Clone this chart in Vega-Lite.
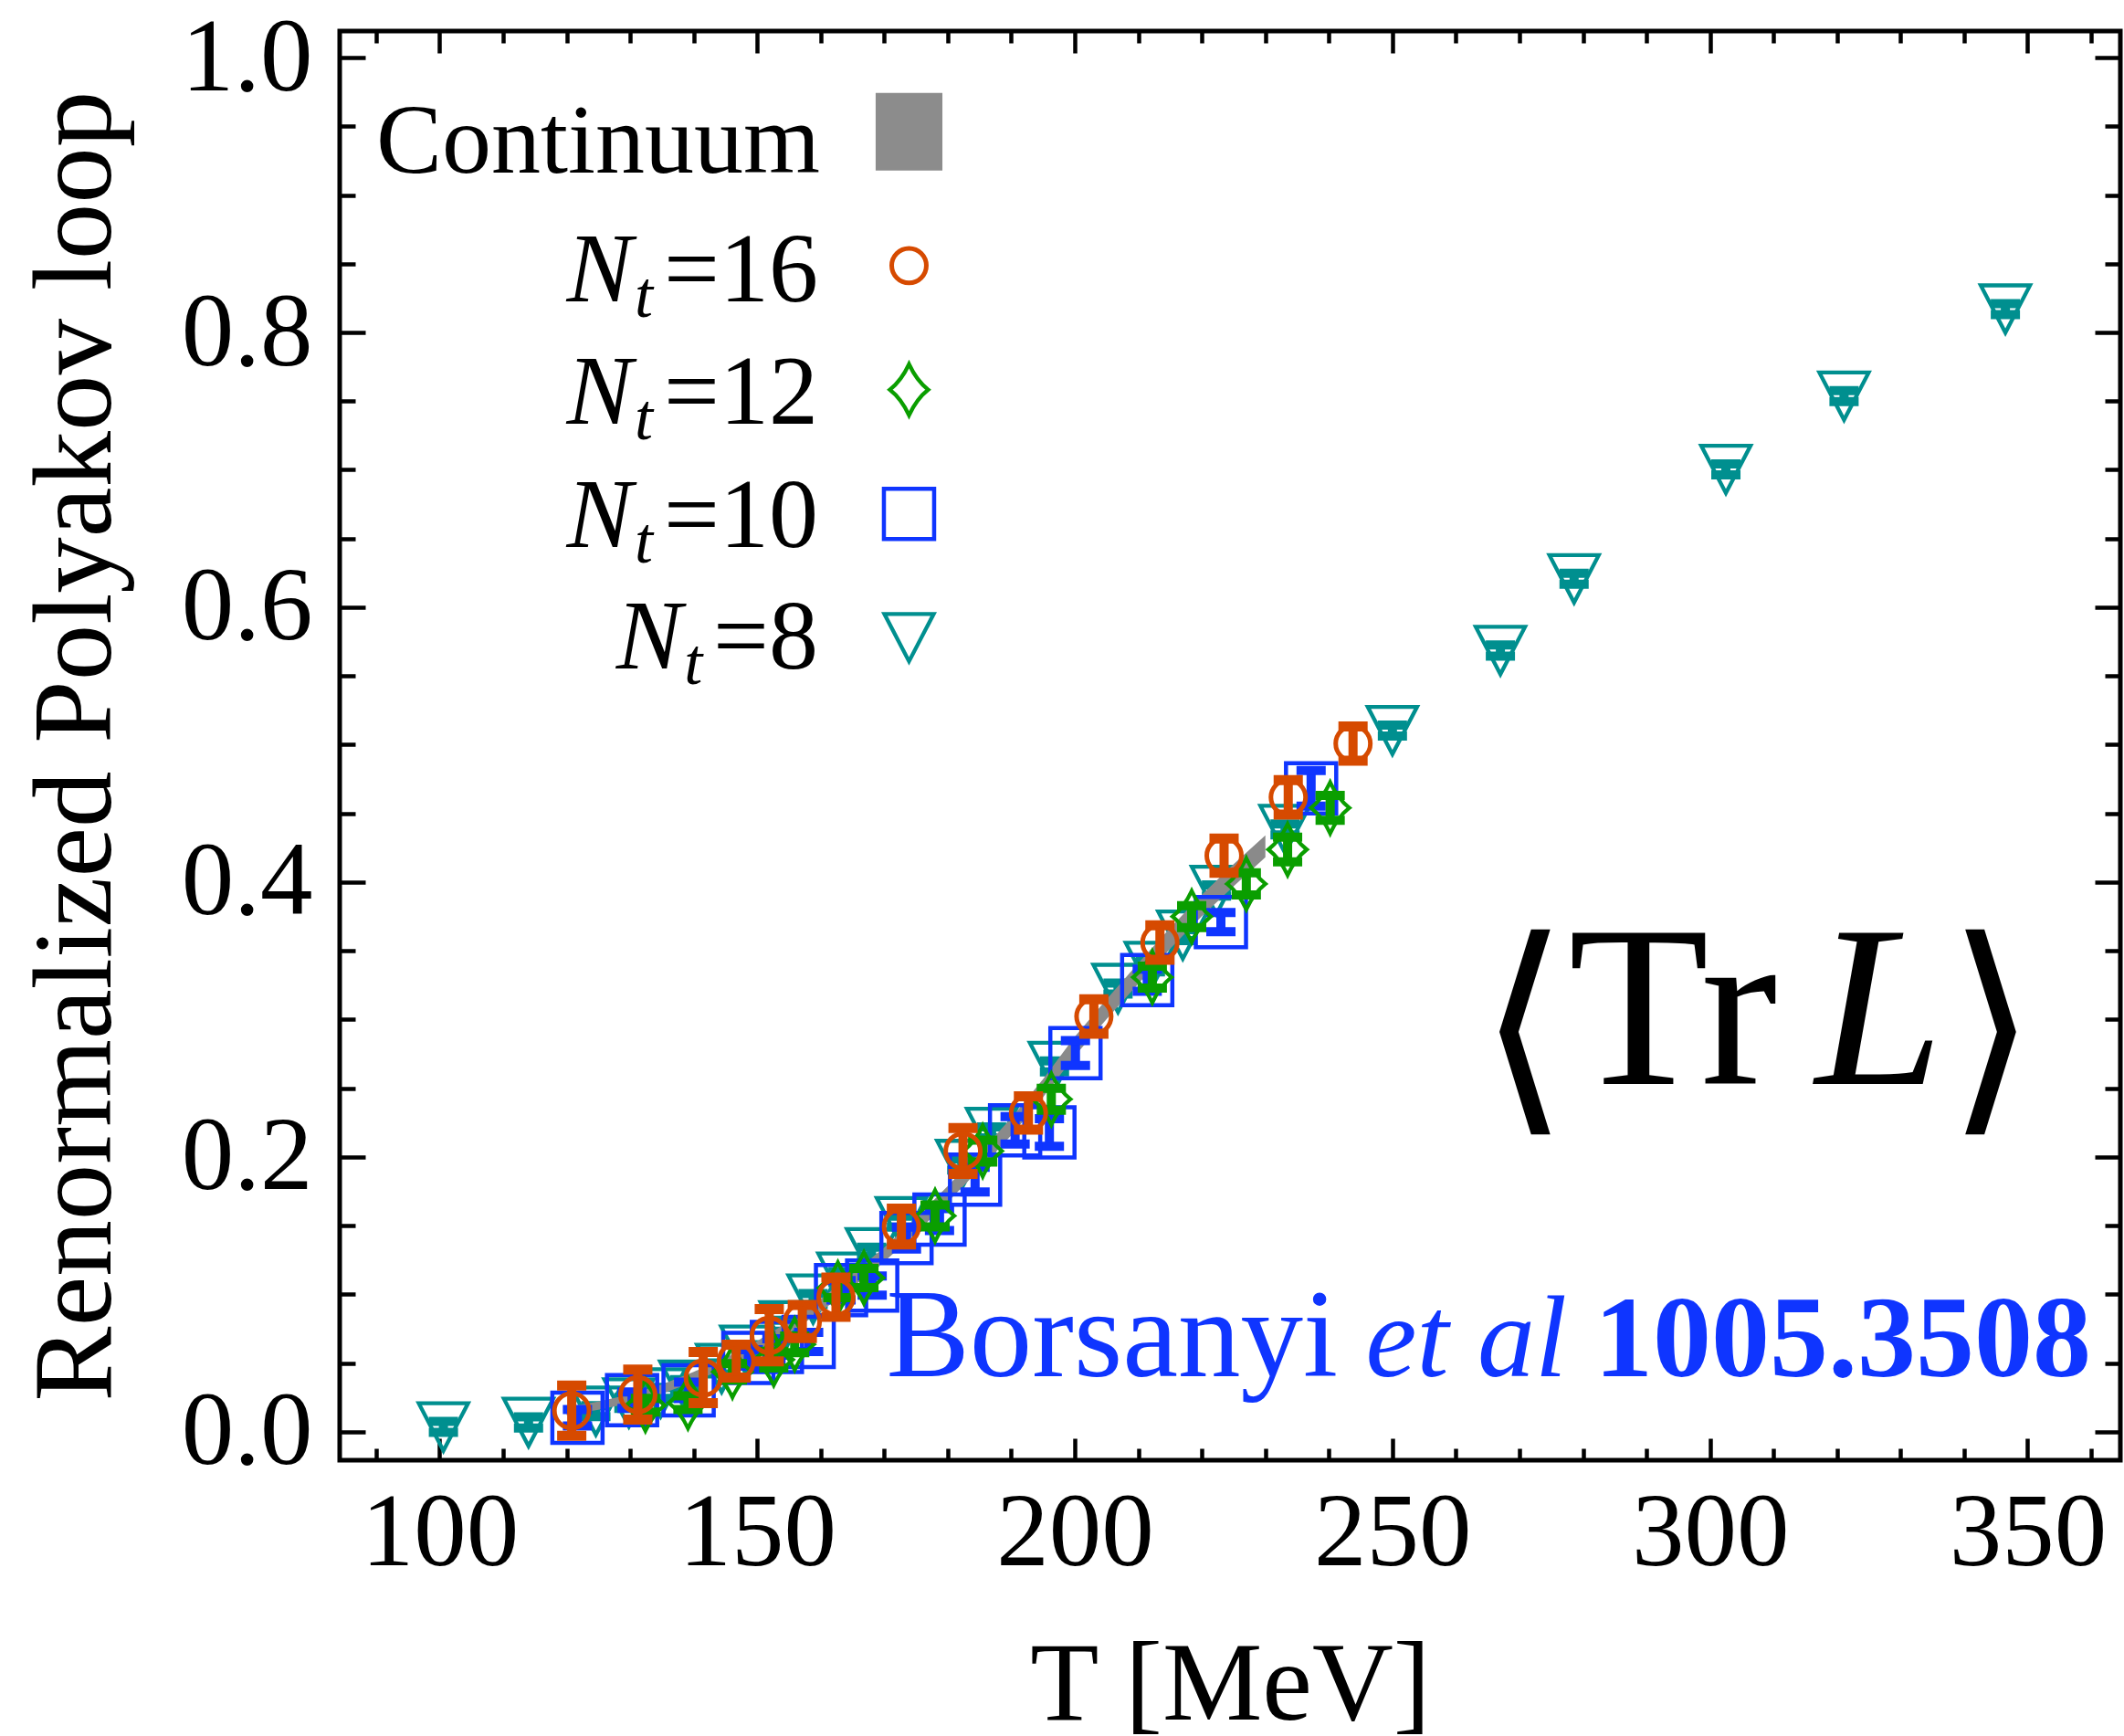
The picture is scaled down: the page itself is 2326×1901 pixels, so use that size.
{
 "$schema": "https://vega.github.io/schema/vega-lite/v6.json",
 "width": 1950, "height": 1565,
 "autosize": {"type": "none"},
 "padding": {"left": 372, "top": 34, "right": 4, "bottom": 302},
 "background": "#ffffff",
 "config": {
  "font": "Liberation Serif",
  "view": {"stroke": "#000000", "strokeWidth": 5},
  "axis": {"domain": false, "grid": false, "labelFont": "Liberation Serif", "labelFontSize": 115, "labelColor": "#000000", "tickColor": "#000000", "tickWidth": 4.5, "titleFont": "Liberation Serif", "titleFontSize": 123, "titleFontWeight": "normal", "titleColor": "#000000", "labelOverlap": false, "labelFlush": false}
 },
 "datasets": {
  "pts": [
   {"s":"8","T":100.6,"L":0.0035,"lo":-0.0005,"hi":0.0075},
   {"s":"8","T":114.0,"L":0.0068,"lo":0.0028,"hi":0.0108},
   {"s":"8","T":124.6,"L":0.015,"lo":0.011,"hi":0.019},
   {"s":"8","T":129.8,"L":0.021,"lo":0.017,"hi":0.025},
   {"s":"8","T":134.8,"L":0.0283,"lo":0.0243,"hi":0.0323},
   {"s":"8","T":138.6,"L":0.0339,"lo":0.0299,"hi":0.0379},
   {"s":"8","T":144.4,"L":0.0461,"lo":0.0421,"hi":0.0501},
   {"s":"8","T":148.2,"L":0.0594,"lo":0.0554,"hi":0.0634},
   {"s":"8","T":154.4,"L":0.0771,"lo":0.0731,"hi":0.0811},
   {"s":"8","T":158.8,"L":0.0966,"lo":0.0926,"hi":0.1006},
   {"s":"8","T":163.5,"L":0.1125,"lo":0.1085,"hi":0.1165},
   {"s":"8","T":168.0,"L":0.1303,"lo":0.1263,"hi":0.1343},
   {"s":"8","T":172.7,"L":0.1529,"lo":0.1489,"hi":0.1569},
   {"s":"8","T":182.2,"L":0.1945,"lo":0.1905,"hi":0.1985},
   {"s":"8","T":186.9,"L":0.2178,"lo":0.2138,"hi":0.2218},
   {"s":"8","T":196.8,"L":0.2659,"lo":0.2619,"hi":0.2699},
   {"s":"8","T":206.8,"L":0.3226,"lo":0.3186,"hi":0.3266},
   {"s":"8","T":211.9,"L":0.3386,"lo":0.3346,"hi":0.3426},
   {"s":"8","T":217.0,"L":0.3614,"lo":0.3574,"hi":0.3654},
   {"s":"8","T":222.3,"L":0.3939,"lo":0.3899,"hi":0.3979},
   {"s":"8","T":233.1,"L":0.4383,"lo":0.4343,"hi":0.4423},
   {"s":"8","T":250.0,"L":0.5103,"lo":0.5063,"hi":0.5143},
   {"s":"8","T":267.0,"L":0.5685,"lo":0.5645,"hi":0.5725},
   {"s":"8","T":278.6,"L":0.6207,"lo":0.6167,"hi":0.6247},
   {"s":"8","T":302.5,"L":0.7003,"lo":0.6963,"hi":0.7043},
   {"s":"8","T":321.1,"L":0.7536,"lo":0.7496,"hi":0.7576},
   {"s":"8","T":346.5,"L":0.817,"lo":0.813,"hi":0.821},
   {"s":"10","T":121.7,"L":0.0102,"lo":0.0042,"hi":0.0162},
   {"s":"10","T":130.3,"L":0.023,"lo":0.017,"hi":0.029},
   {"s":"10","T":139.2,"L":0.0302,"lo":0.0242,"hi":0.0362},
   {"s":"10","T":148.6,"L":0.0537,"lo":0.0477,"hi":0.0597},
   {"s":"10","T":153.1,"L":0.0617,"lo":0.0557,"hi":0.0677},
   {"s":"10","T":158.1,"L":0.0653,"lo":0.0583,"hi":0.0723},
   {"s":"10","T":163.2,"L":0.103,"lo":0.096,"hi":0.11},
   {"s":"10","T":168.1,"L":0.1064,"lo":0.0994,"hi":0.1134},
   {"s":"10","T":173.5,"L":0.141,"lo":0.133,"hi":0.149},
   {"s":"10","T":178.7,"L":0.1544,"lo":0.1464,"hi":0.1624},
   {"s":"10","T":184.3,"L":0.1835,"lo":0.1745,"hi":0.1925},
   {"s":"10","T":190.6,"L":0.2194,"lo":0.2094,"hi":0.2294},
   {"s":"10","T":196.0,"L":0.2178,"lo":0.2078,"hi":0.2278},
   {"s":"10","T":200.1,"L":0.2756,"lo":0.2666,"hi":0.2846},
   {"s":"10","T":211.4,"L":0.3286,"lo":0.3206,"hi":0.3366},
   {"s":"10","T":223.0,"L":0.3709,"lo":0.3639,"hi":0.3779},
   {"s":"10","T":237.2,"L":0.4682,"lo":0.4552,"hi":0.4812},
   {"s":"12","T":132.4,"L":0.0193,"lo":0.0143,"hi":0.0243},
   {"s":"12","T":139.1,"L":0.0211,"lo":0.0161,"hi":0.0261},
   {"s":"12","T":146.1,"L":0.0436,"lo":0.0376,"hi":0.0496},
   {"s":"12","T":152.6,"L":0.0525,"lo":0.0465,"hi":0.0585},
   {"s":"12","T":155.9,"L":0.0636,"lo":0.0576,"hi":0.0696},
   {"s":"12","T":162.7,"L":0.1046,"lo":0.0976,"hi":0.1116},
   {"s":"12","T":166.8,"L":0.1119,"lo":0.1049,"hi":0.1189},
   {"s":"12","T":178.0,"L":0.1571,"lo":0.1491,"hi":0.1651},
   {"s":"12","T":185.5,"L":0.2043,"lo":0.1963,"hi":0.2123},
   {"s":"12","T":196.3,"L":0.242,"lo":0.234,"hi":0.25},
   {"s":"12","T":212.2,"L":0.3308,"lo":0.3228,"hi":0.3388},
   {"s":"12","T":218.4,"L":0.3749,"lo":0.3669,"hi":0.3829},
   {"s":"12","T":227.0,"L":0.3987,"lo":0.3907,"hi":0.4067},
   {"s":"12","T":233.5,"L":0.4237,"lo":0.4147,"hi":0.4327},
   {"s":"12","T":240.2,"L":0.454,"lo":0.445,"hi":0.463},
   {"s":"16","T":120.8,"L":0.0153,"lo":-0.0029,"hi":0.0336},
   {"s":"16","T":131.2,"L":0.027,"lo":0.0088,"hi":0.0452},
   {"s":"16","T":141.5,"L":0.0392,"lo":0.0208,"hi":0.058},
   {"s":"16","T":146.7,"L":0.0514,"lo":0.0394,"hi":0.0634},
   {"s":"16","T":151.9,"L":0.0702,"lo":0.0512,"hi":0.0892},
   {"s":"16","T":157.1,"L":0.0802,"lo":0.0682,"hi":0.0922},
   {"s":"16","T":162.4,"L":0.0979,"lo":0.0836,"hi":0.1122},
   {"s":"16","T":172.7,"L":0.1493,"lo":0.1363,"hi":0.1623},
   {"s":"16","T":182.4,"L":0.2043,"lo":0.1876,"hi":0.221},
   {"s":"16","T":192.7,"L":0.232,"lo":0.2198,"hi":0.2442},
   {"s":"16","T":203.0,"L":0.3022,"lo":0.2897,"hi":0.3147},
   {"s":"16","T":213.4,"L":0.356,"lo":0.3435,"hi":0.3685},
   {"s":"16","T":223.5,"L":0.4192,"lo":0.4067,"hi":0.4317},
   {"s":"16","T":233.6,"L":0.4617,"lo":0.4492,"hi":0.4742},
   {"s":"16","T":243.8,"L":0.5008,"lo":0.4883,"hi":0.5133}
  ],
  "band": [
   {"T":120,"lo":0.012,"hi":0.018},
   {"T":125,"lo":0.016,"hi":0.022},
   {"T":130,"lo":0.0208,"hi":0.0272},
   {"T":135,"lo":0.0276,"hi":0.0344},
   {"T":140,"lo":0.0364,"hi":0.0436},
   {"T":145,"lo":0.0462,"hi":0.0538},
   {"T":150,"lo":0.058,"hi":0.066},
   {"T":155,"lo":0.0717,"hi":0.0803},
   {"T":160,"lo":0.0874,"hi":0.0966},
   {"T":165,"lo":0.1051,"hi":0.1149},
   {"T":170,"lo":0.1238,"hi":0.1342},
   {"T":175,"lo":0.1445,"hi":0.1555},
   {"T":180,"lo":0.1672,"hi":0.1788},
   {"T":185,"lo":0.191,"hi":0.203},
   {"T":190,"lo":0.2157,"hi":0.2283},
   {"T":195,"lo":0.2434,"hi":0.2566},
   {"T":200,"lo":0.2736,"hi":0.2874},
   {"T":205,"lo":0.3003,"hi":0.3147},
   {"T":210,"lo":0.3261,"hi":0.3409},
   {"T":215,"lo":0.3514,"hi":0.3666},
   {"T":220,"lo":0.3752,"hi":0.3908},
   {"T":225,"lo":0.397,"hi":0.413},
   {"T":230,"lo":0.418,"hi":0.434}
  ]
 },
 "resolve": {"axis": {"x": "independent", "y": "independent"}},
 "layer": [
  {
   "encoding": {
    "x": {"field": "T", "type": "quantitative", "scale": {"domain": [84.27, 364.6], "nice": false, "zero": false}},
    "y": {"field": "L", "type": "quantitative", "scale": {"domain": [-0.0207, 1.0193], "nice": false, "zero": false}}
   },
   "resolve": {"axis": {"x": "independent", "y": "independent"}},
   "layer": [
    {
     "data": {"name": "pts"},
     "transform": [{"filter": "datum.s == '8'"}],
     "encoding": {
      "x": {"field": "T", "axis": {"orient": "bottom", "values": [100,150,200,250,300,350], "labels": false, "tickSize": 24, "offset": -24, "title": null}},
      "y": {"field": "L", "axis": {"orient": "left", "values": [0,0.2,0.4,0.6,0.8,1], "labels": false, "tickSize": 28, "offset": -28, "title": null}}
     },
     "layer": [
      {"mark": {"type": "rule", "color": "#008f8f", "strokeWidth": 10}, "encoding": {"y": {"field": "lo"}, "y2": {"field": "hi"}}},
      {"mark": {"type": "tick", "orient": "horizontal", "color": "#008f8f", "size": 32, "thickness": 10, "opacity": 1}, "encoding": {"y": {"field": "lo"}}},
      {"mark": {"type": "tick", "orient": "horizontal", "color": "#008f8f", "size": 32, "thickness": 10, "opacity": 1}, "encoding": {"y": {"field": "hi"}}},
      {"mark": {"type": "point", "shape": "M-1,-0.96L1,-0.96L0,0.96Z", "size": 2916, "filled": false, "color": "#008f8f", "strokeWidth": 4.3, "opacity": 1}}
     ]
    },
    {
     "data": {"name": "band"},
     "mark": {"type": "area", "color": "#8a8a8a", "opacity": 1},
     "encoding": {
      "x": {"field": "T", "axis": {"orient": "bottom", "values": [100,150,200,250,300,350], "format": "d", "ticks": false, "labelPadding": 23, "title": "T [MeV]", "titleY": 283, "titleBaseline": "alphabetic"}},
      "y": {"field": "lo", "axis": {"orient": "left", "values": [0,0.2,0.4,0.6,0.8,1], "format": ".1f", "ticks": false, "labelPadding": 30, "title": "Renormalized Polyakov loop", "titleX": -252, "titleBaseline": "alphabetic"}},
      "y2": {"field": "hi"}
     }
    },
    {
     "data": {"name": "pts"},
     "transform": [{"filter": "datum.s == '10'"}],
     "encoding": {
      "x": {"field": "T", "axis": {"orient": "bottom", "values": [90,110,120,130,140,160,170,180,190,210,220,230,240,260,270,280,290,310,320,330,340,360], "labels": false, "tickSize": 13, "offset": -13, "title": null}},
      "y": {"field": "L", "axis": {"orient": "left", "values": [0.05,0.1,0.15,0.25,0.3,0.35,0.45,0.5,0.55,0.65,0.7,0.75,0.85,0.9,0.95], "labels": false, "tickSize": 17, "offset": -17, "title": null}}
     },
     "layer": [
      {"mark": {"type": "rule", "color": "#0f35ff", "strokeWidth": 10}, "encoding": {"y": {"field": "lo"}, "y2": {"field": "hi"}}},
      {"mark": {"type": "tick", "orient": "horizontal", "color": "#0f35ff", "size": 32, "thickness": 10, "opacity": 1}, "encoding": {"y": {"field": "lo"}}},
      {"mark": {"type": "tick", "orient": "horizontal", "color": "#0f35ff", "size": 32, "thickness": 10, "opacity": 1}, "encoding": {"y": {"field": "hi"}}},
      {"mark": {"type": "point", "shape": "square", "size": 3025, "filled": false, "color": "#0f35ff", "strokeWidth": 4.5, "opacity": 1}}
     ]
    },
    {
     "data": {"name": "pts"},
     "transform": [{"filter": "datum.s == '12'"}],
     "encoding": {
      "x": {"field": "T", "axis": {"orient": "top", "values": [100,150,200,250,300,350], "labels": false, "tickSize": 24, "offset": -24, "title": null}},
      "y": {"field": "L", "axis": {"orient": "right", "values": [0,0.2,0.4,0.6,0.8,1], "labels": false, "tickSize": 28, "offset": -28, "title": null}}
     },
     "layer": [
      {"mark": {"type": "rule", "color": "#0a9e00", "strokeWidth": 10}, "encoding": {"y": {"field": "lo"}, "y2": {"field": "hi"}}},
      {"mark": {"type": "tick", "orient": "horizontal", "color": "#0a9e00", "size": 32, "thickness": 10, "opacity": 1}, "encoding": {"y": {"field": "lo"}}},
      {"mark": {"type": "tick", "orient": "horizontal", "color": "#0a9e00", "size": 32, "thickness": 10, "opacity": 1}, "encoding": {"y": {"field": "hi"}}},
      {"mark": {"type": "point", "shape": "M0,-1Q0.3,-0.35 0.75,0Q0.3,0.35 0,1Q-0.3,0.35 -0.75,0Q-0.3,-0.35 0,-1Z", "size": 3136, "filled": false, "color": "#0a9e00", "strokeWidth": 4.2, "opacity": 1}}
     ]
    },
    {
     "data": {"name": "pts"},
     "transform": [{"filter": "datum.s == '16'"}],
     "encoding": {
      "x": {"field": "T", "axis": {"orient": "top", "values": [90,110,120,130,140,160,170,180,190,210,220,230,240,260,270,280,290,310,320,330,340,360], "labels": false, "tickSize": 13, "offset": -13, "title": null}},
      "y": {"field": "L", "axis": {"orient": "right", "values": [0.05,0.1,0.15,0.25,0.3,0.35,0.45,0.5,0.55,0.65,0.7,0.75,0.85,0.9,0.95], "labels": false, "tickSize": 17, "offset": -17, "title": null}}
     },
     "layer": [
      {"mark": {"type": "rule", "color": "#d64a00", "strokeWidth": 10}, "encoding": {"y": {"field": "lo"}, "y2": {"field": "hi"}}},
      {"mark": {"type": "tick", "orient": "horizontal", "color": "#d64a00", "size": 32, "thickness": 11, "opacity": 1}, "encoding": {"y": {"field": "lo"}}},
      {"mark": {"type": "tick", "orient": "horizontal", "color": "#d64a00", "size": 32, "thickness": 11, "opacity": 1}, "encoding": {"y": {"field": "hi"}}},
      {"mark": {"type": "point", "shape": "circle", "size": 1440, "filled": false, "color": "#d64a00", "strokeWidth": 5, "opacity": 1}}
     ]
    }
   ]
  },
  {"data": {"values": [{}]}, "mark": {"type": "text", "text": "Continuum", "align": "right", "baseline": "alphabetic", "fontSize": 108, "color": "#000000"}, "encoding": {"x": {"datum": 159.9, "type": "quantitative", "axis": null}, "y": {"datum": 0.9162, "type": "quantitative", "axis": null}}},
  {"data": {"values": [{}]}, "mark": {"type": "point", "shape": "M-0.86,-1H0.86V1H-0.86Z", "size": 7225, "filled": true, "color": "#8c8c8c", "opacity": 1}, "encoding": {"x": {"datum": 173.9, "type": "quantitative", "axis": null}, "y": {"datum": 0.946, "type": "quantitative", "axis": null}}},
  {"data": {"values": [{}]}, "mark": {"type": "point", "shape": "circle", "size": 1440, "filled": false, "color": "#d64a00", "strokeWidth": 5, "opacity": 1}, "encoding": {"x": {"datum": 173.9, "type": "quantitative", "axis": null}, "y": {"datum": 0.8486, "type": "quantitative", "axis": null}}},
  {"data": {"values": [{}]}, "mark": {"type": "point", "shape": "M0,-1Q0.3,-0.35 0.75,0Q0.3,0.35 0,1Q-0.3,0.35 -0.75,0Q-0.3,-0.35 0,-1Z", "size": 3136, "filled": false, "color": "#0a9e00", "strokeWidth": 4.2, "opacity": 1}, "encoding": {"x": {"datum": 173.9, "type": "quantitative", "axis": null}, "y": {"datum": 0.7583, "type": "quantitative", "axis": null}}},
  {"data": {"values": [{}]}, "mark": {"type": "point", "shape": "square", "size": 3025, "filled": false, "color": "#0f35ff", "strokeWidth": 4.5, "opacity": 1}, "encoding": {"x": {"datum": 173.9, "type": "quantitative", "axis": null}, "y": {"datum": 0.668, "type": "quantitative", "axis": null}}},
  {"data": {"values": [{}]}, "mark": {"type": "point", "shape": "M-1,-0.96L1,-0.96L0,0.96Z", "size": 2916, "filled": false, "color": "#008f8f", "strokeWidth": 4.3, "opacity": 1}, "encoding": {"x": {"datum": 173.9, "type": "quantitative", "axis": null}, "y": {"datum": 0.5779, "type": "quantitative", "axis": null}}},
  {"data": {"values": [{}]}, "mark": {"type": "text", "text": "N", "align": "left", "baseline": "alphabetic", "fontStyle": "italic", "fontSize": 108, "color": "#000000"}, "encoding": {"x": {"datum": 120.0, "type": "quantitative", "axis": null}, "y": {"datum": 0.8228, "type": "quantitative", "axis": null}}},
  {"data": {"values": [{}]}, "mark": {"type": "text", "text": "t", "align": "left", "baseline": "alphabetic", "fontStyle": "italic", "fontSize": 72, "dy": 17, "color": "#000000"}, "encoding": {"x": {"datum": 130.7, "type": "quantitative", "axis": null}, "y": {"datum": 0.8228, "type": "quantitative", "axis": null}}},
  {"data": {"values": [{}]}, "mark": {"type": "text", "text": "=16", "align": "right", "baseline": "alphabetic", "fontSize": 108, "color": "#000000"}, "encoding": {"x": {"datum": 159.6, "type": "quantitative", "axis": null}, "y": {"datum": 0.8228, "type": "quantitative", "axis": null}}},
  {"data": {"values": [{}]}, "mark": {"type": "text", "text": "N", "align": "left", "baseline": "alphabetic", "fontStyle": "italic", "fontSize": 108, "color": "#000000"}, "encoding": {"x": {"datum": 120.0, "type": "quantitative", "axis": null}, "y": {"datum": 0.7335, "type": "quantitative", "axis": null}}},
  {"data": {"values": [{}]}, "mark": {"type": "text", "text": "t", "align": "left", "baseline": "alphabetic", "fontStyle": "italic", "fontSize": 72, "dy": 17, "color": "#000000"}, "encoding": {"x": {"datum": 130.7, "type": "quantitative", "axis": null}, "y": {"datum": 0.7335, "type": "quantitative", "axis": null}}},
  {"data": {"values": [{}]}, "mark": {"type": "text", "text": "=12", "align": "right", "baseline": "alphabetic", "fontSize": 108, "color": "#000000"}, "encoding": {"x": {"datum": 159.6, "type": "quantitative", "axis": null}, "y": {"datum": 0.7335, "type": "quantitative", "axis": null}}},
  {"data": {"values": [{}]}, "mark": {"type": "text", "text": "N", "align": "left", "baseline": "alphabetic", "fontStyle": "italic", "fontSize": 108, "color": "#000000"}, "encoding": {"x": {"datum": 120.0, "type": "quantitative", "axis": null}, "y": {"datum": 0.644, "type": "quantitative", "axis": null}}},
  {"data": {"values": [{}]}, "mark": {"type": "text", "text": "t", "align": "left", "baseline": "alphabetic", "fontStyle": "italic", "fontSize": 72, "dy": 17, "color": "#000000"}, "encoding": {"x": {"datum": 130.7, "type": "quantitative", "axis": null}, "y": {"datum": 0.644, "type": "quantitative", "axis": null}}},
  {"data": {"values": [{}]}, "mark": {"type": "text", "text": "=10", "align": "right", "baseline": "alphabetic", "fontSize": 108, "color": "#000000"}, "encoding": {"x": {"datum": 159.6, "type": "quantitative", "axis": null}, "y": {"datum": 0.644, "type": "quantitative", "axis": null}}},
  {"data": {"values": [{}]}, "mark": {"type": "text", "text": "N", "align": "left", "baseline": "alphabetic", "fontStyle": "italic", "fontSize": 108, "color": "#000000"}, "encoding": {"x": {"datum": 127.8, "type": "quantitative", "axis": null}, "y": {"datum": 0.5553, "type": "quantitative", "axis": null}}},
  {"data": {"values": [{}]}, "mark": {"type": "text", "text": "t", "align": "left", "baseline": "alphabetic", "fontStyle": "italic", "fontSize": 72, "dy": 17, "color": "#000000"}, "encoding": {"x": {"datum": 138.5, "type": "quantitative", "axis": null}, "y": {"datum": 0.5553, "type": "quantitative", "axis": null}}},
  {"data": {"values": [{}]}, "mark": {"type": "text", "text": "=8", "align": "right", "baseline": "alphabetic", "fontSize": 108, "color": "#000000"}, "encoding": {"x": {"datum": 159.6, "type": "quantitative", "axis": null}, "y": {"datum": 0.5553, "type": "quantitative", "axis": null}}},
  {"data": {"values": [{}]}, "mark": {"type": "text", "text": "⟨", "align": "left", "baseline": "alphabetic", "font": "DejaVu Sans", "fontSize": 252, "dy": 22, "color": "#000000"}, "encoding": {"x": {"datum": 263.6, "type": "quantitative", "axis": null}, "y": {"datum": 0.2528, "type": "quantitative", "axis": null}}},
  {"data": {"values": [{}]}, "mark": {"type": "text", "text": "Tr", "align": "left", "baseline": "alphabetic", "fontSize": 252, "color": "#000000"}, "encoding": {"x": {"datum": 277.7, "type": "quantitative", "axis": null}, "y": {"datum": 0.2528, "type": "quantitative", "axis": null}}},
  {"data": {"values": [{}]}, "mark": {"type": "text", "text": "L", "align": "left", "baseline": "alphabetic", "fontStyle": "italic", "fontSize": 252, "color": "#000000"}, "encoding": {"x": {"datum": 316.6, "type": "quantitative", "axis": null}, "y": {"datum": 0.2528, "type": "quantitative", "axis": null}}},
  {"data": {"values": [{}]}, "mark": {"type": "text", "text": "⟩", "align": "left", "baseline": "alphabetic", "font": "DejaVu Sans", "fontSize": 252, "dy": 22, "color": "#000000"}, "encoding": {"x": {"datum": 337.3, "type": "quantitative", "axis": null}, "y": {"datum": 0.2528, "type": "quantitative", "axis": null}}},
  {"data": {"values": [{}]}, "mark": {"type": "text", "text": "Borsanyi", "align": "left", "baseline": "alphabetic", "fontSize": 137, "color": "#0f35ff"}, "encoding": {"x": {"datum": 170.3, "type": "quantitative", "axis": null}, "y": {"datum": 0.0402, "type": "quantitative", "axis": null}}},
  {"data": {"values": [{}]}, "mark": {"type": "text", "text": "et al", "align": "left", "baseline": "alphabetic", "fontStyle": "italic", "fontSize": 126, "color": "#0f35ff"}, "encoding": {"x": {"datum": 245.8, "type": "quantitative", "axis": null}, "y": {"datum": 0.0402, "type": "quantitative", "axis": null}}},
  {"data": {"values": [{}]}, "mark": {"type": "text", "text": "1005.3508", "align": "left", "baseline": "alphabetic", "fontWeight": "bold", "fontSize": 128, "color": "#0f35ff"}, "encoding": {"x": {"datum": 281.8, "type": "quantitative", "axis": null}, "y": {"datum": 0.0402, "type": "quantitative", "axis": null}}}
 ]
}
